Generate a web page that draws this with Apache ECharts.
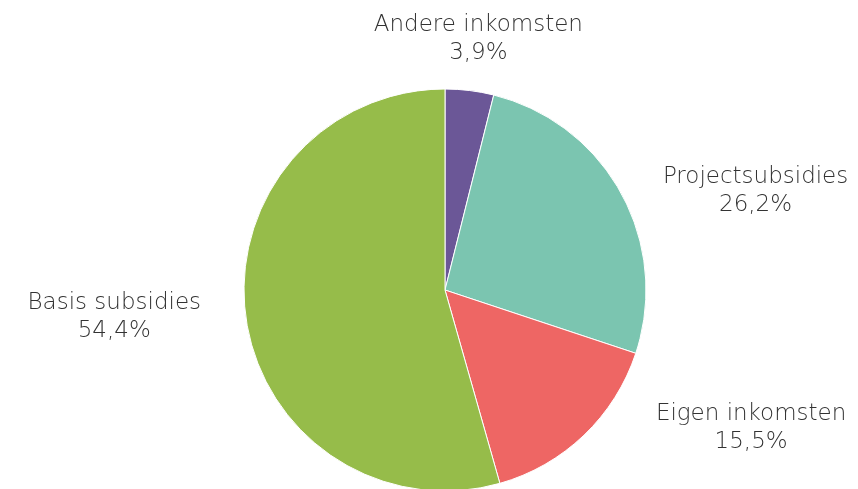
<!DOCTYPE html>
<html>
<head>
<meta charset="utf-8">
<script src="https://cdn.jsdelivr.net/npm/echarts@6/dist/echarts.min.js"></script>
<style>
  html, body { margin: 0; padding: 0; background: #fff; }
  #main { width: 858px; height: 489px; }
</style>
</head>
<body>
<div id="main"></div>
<script>
var categories = ['Andere inkomsten', 'Projectsubsidies', 'Eigen inkomsten', 'Basis subsidies'];
var values = [3.9, 26.2, 15.5, 54.4];
var colors = ['#6b5797', '#7bc5b0', '#ee6664', '#96bc4a'];

var myChart = echarts.init(document.getElementById('main'));
var data = [];
for (var i = 0; i < categories.length; i++) {
    data.push({ value: values[i], name: categories[i], itemStyle: { color: colors[i] } });
}

// nudge of each label from where echarts puts it (px)
var labelNudge = [[-132, -42], [-2, 3], [30, -14], [0, -2]];

var option = {
    animation: false,
    series: [
        {
            type: 'pie',
            center: [445, 290],
            radius: 201,
            startAngle: 90,
            clockwise: true,
            data: data,
            itemStyle: { borderColor: '#fff', borderWidth: 1 },
            label: {
                show: true,
                position: 'outside',
                overflow: 'none',
                edgeDistance: 0,
                fontFamily: 'DejaVu Sans',
                fontWeight: 200,
                fontSize: 23,
                lineHeight: 28,
                color: '#333333',
                formatter: function (p) {
                    return p.name + '\n' + p.value.toFixed(1).replace('.', ',') + '%';
                }
            },
            labelLine: { show: false, length: 10, length2: 30 },
            labelLayout: function (params) {
                var r = params.labelRect;
                var n = labelNudge[params.dataIndex];
                return {
                    x: r.x + r.width / 2 + n[0],
                    y: r.y + r.height / 2 + n[1],
                    align: 'center',
                    verticalAlign: 'middle'
                };
            }
        }
    ]
};
myChart.setOption(option);
</script>
</body>
</html>
